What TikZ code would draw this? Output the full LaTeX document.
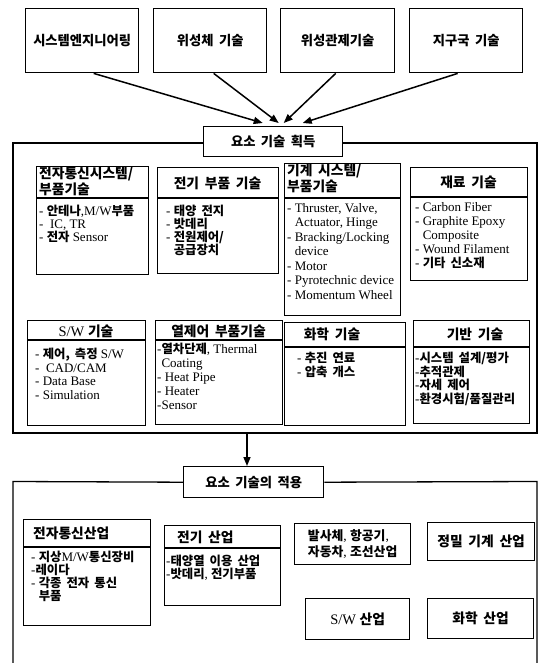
\documentclass[tikz,border=0pt]{standalone}
\usepackage{fontspec}
\setmainfont{Liberation Serif}
\newfontfamily\krfont{Noto Sans CJK KR}[Scale=0.95,WordSpace=1.8]
\newcommand\ko[1]{{\krfont\bfseries #1}}
\usetikzlibrary{arrows.meta,calc}
\tikzset{
  bx/.style={draw, line width=1.3pt, inner sep=0pt, anchor=north west},
  tb/.style={draw, line width=1.4pt, inner sep=0pt, anchor=north west},
  hd/.style={font=\fontsize{14.5}{16}\selectfont, inner sep=0pt, align=left},
  tt/.style={font=\fontsize{14}{15}\selectfont, inner sep=0pt},
  it/.style={font=\fontsize{13}{13}\selectfont, align=left, inner sep=0pt, anchor=north west},
  arr/.style={line width=1.5pt, -{Triangle[length=9pt,width=7pt]}},
  fr/.style={line width=1.3pt},
  dv/.style={line width=1.1pt}
}
\begin{document}
\begin{tikzpicture}[x=1pt,y=-1pt]
\useasboundingbox (0,0) rectangle (543,663);

% top boxes
\node[tb, minimum width=113pt, minimum height=64pt] (b1) at (25,8) {};
\node[tb, minimum width=113pt, minimum height=64pt] (b2) at (153,8) {};
\node[tb, minimum width=114pt, minimum height=64pt] (b3) at (280,8) {};
\node[tb, minimum width=113pt, minimum height=64pt] (b4) at (409,8) {};
\node[tt] (t1) at (b1.center) {\ko{시스템엔지니어링}};
\node[tt] (t2) at (b2.center) {\ko{위성체 기술}};
\node[tt] (t3) at (b3.center) {\ko{위성관제기술}};
\node[tt] (t4) at (b4.center) {\ko{지구국 기술}};

% label 1
\node[tb, minimum width=139pt, minimum height=30pt] (lab1) at (203,126) {};
\node[tt] (lab1t) at (lab1.center) {\ko{요소 기술 획득}};

\draw[arr] ($(b1.south)+(11.5,0)$) -- ($(lab1.north)+(-10.5,-3)$);
\draw[arr] ($(b2.south)+(3.5,0)$) -- ($(lab1.north)+(5.5,-3)$);
\draw[arr] ($(b3.south)+(-2,0)$) -- ($(lab1.north)+(10.5,-3)$);
\draw[arr] ($(b4.south)+(-8.5,0)$) -- ($(lab1.north)+(29.5,-3)$);

% frame 1
\draw[fr] (lab1.west |- 0,143) -- (13,143) -- (13,433) -- (537,433) -- (537,143) -- (lab1.east |- 0,143);

% row 1
\node[bx, minimum width=112pt, minimum height=108pt] (A) at (36,166) {};
\draw[dv] (A.west |- 0,198) -- (A.east |- 0,198);
\node[hd, anchor=north west] (Ah) at (39,167) {\ko{전자통신시스템/}\\\ko{부품기술}};
\node[it] (Ai) at (39,205) {- \ko{안테나},M/W\ko{부품}\\- \ IC, TR\\- \ko{전자} Sensor};

\node[bx, minimum width=121pt, minimum height=106pt] (B) at (157,167) {};
\draw[dv] (B.west |- 0,198) -- (B.east |- 0,198);
\node[hd] (Bh) at (217.5,183) {\ko{전기 부품 기술}};
\node[it] (Bi) at (166,205) {- \ko{태양 전지}\\- \ko{밧데리}\\- \ko{전원제어/}\\\phantom{- }\ko{공급장치}};

\node[bx, minimum width=116pt, minimum height=152pt] (C) at (284,163) {};
\draw[dv] (C.west |- 0,198) -- (C.east |- 0,198);
\node[hd, anchor=north west] (Ch) at (287,164) {\ko{기계 시스템/}\\\ko{부품기술}};
\node[it, font=\fontsize{13}{14.5}\selectfont] (Ci) at (287,203) {- Thruster, Valve,\\\phantom{- }Actuator, Hinge\\- Bracking/Locking\\\phantom{- }device\\- Motor\\- Pyrotechnic device\\- Momentum Wheel};

\node[bx, minimum width=117pt, minimum height=113pt] (D) at (410,167) {};
\draw[dv] (D.west |- 0,197) -- (D.east |- 0,197);
\node[hd] (Dh) at (468.5,182) {\ko{재료 기술}};
\node[it, font=\fontsize{13}{14}\selectfont] (Di) at (415,202) {- Carbon Fiber\\- Graphite Epoxy\\\phantom{- }Composite\\- Wound Filament\\- \ko{기타 신소재}};

% row 2
\node[bx, minimum width=118pt, minimum height=105pt] (E) at (27,320) {};
\draw[dv] (E.west |- 0,340) -- (E.east |- 0,340);
\node[hd] (Eh) at (86,331) {S/W \ko{기술}};
\node[it, font=\fontsize{13}{13.5}\selectfont] (Ei) at (35,348) {- \ko{제어, 측정} S/W\\- \ CAD/CAM\\- Data Base\\- Simulation};

\node[bx, minimum width=127pt, minimum height=104pt] (F) at (155,320) {};
\draw[dv] (F.west |- 0,340) -- (F.east |- 0,340);
\node[hd] (Fh) at (218.5,331) {\ko{열제어 부품기술}};
\node[it, font=\fontsize{13}{14}\selectfont] (Fi) at (157,343) {-\ko{열차단제}, Thermal\\\phantom{-}Coating\\- Heat Pipe\\- Heater\\-Sensor};

\node[bx, minimum width=121pt, minimum height=103pt] (G) at (284,322) {};
\draw[dv] (G.west |- 0,347) -- (G.east |- 0,347);
\node[hd] (Gh) at (332,334) {\ko{화학 기술}};
\node[it, font=\fontsize{13}{13.5}\selectfont] (Gi) at (297,352) {- \ko{추진 연료}\\- \ko{압축 개스}};

\node[bx, minimum width=116pt, minimum height=103pt] (H) at (413,320) {};
\draw[dv] (H.west |- 0,347) -- (H.east |- 0,347);
\node[hd] (Hh) at (475,334) {\ko{기반 기술}};
\node[it, font=\fontsize{13}{13.5}\selectfont] (Hi) at (415,352) {-\ko{시스템 설계/평가}\\-\ko{추적관제}\\-\ko{자세 제어}\\-\ko{환경시험/품질관리}};

% arrow to label 2
\coordinate (f1b) at (247,433);
\node[tb, minimum width=140pt, minimum height=31pt] (lab2) at (183,466) {};
\node[tt] (lab2t) at (lab2.center) {\ko{요소 기술의 적용}};
\draw[arr] (f1b) -- (f1b |- lab2.north);

% frame 2
\draw[fr] (lab2.west) -- (13,481.5) -- (13,663);
\draw[fr] (lab2.east) -- (537,481.5) -- (537,663);

% row 3
\node[bx, minimum width=127pt, minimum height=106pt] (I) at (23,519) {};
\draw[dv] (I.west |- 0,547) -- (I.east |- 0,547);
\node[hd, anchor=west] (Ih) at (33,533) {\ko{전자통신산업}};
\node[it] (Ii) at (31,551) {- \ko{지상}M/W\ko{통신장비}\\-\ko{레이다}\\- \ko{각종 전자 통신}\\\phantom{- }\ko{부품}};

\node[bx, minimum width=116pt, minimum height=80pt] (J) at (164,525) {};
\draw[dv] (J.west |- 0,548) -- (J.east |- 0,548);
\node[hd, anchor=west] (Jh) at (177,537) {\ko{전기 산업}};
\node[it] (Ji) at (166,555) {-\ko{태양열 이용 산업}\\-\ko{밧데리}, \ko{전기부품}};

\node[bx, minimum width=116pt, minimum height=41pt] (K) at (294,523) {};
\node[hd, font=\fontsize{13.5}{16}\selectfont] (Kt) at (K.center) {\ko{발사체}, \ko{항공기},\\\ko{자동차}, \ko{조선산업}};

\node[bx, minimum width=107pt, minimum height=38pt] (L) at (427,522) {};
\node[hd] (Lt) at (L.center) {\ko{정밀 기계 산업}};

\node[bx, minimum width=104pt, minimum height=41pt] (M) at (305,598) {};
\node[hd] (Mt) at (M.center) {S/W \ko{산업}};

\node[bx, minimum width=106pt, minimum height=40pt] (N) at (427,598) {};
\node[hd] (Nt) at (N.center) {\ko{화학 산업}};
\end{tikzpicture}
\end{document}
